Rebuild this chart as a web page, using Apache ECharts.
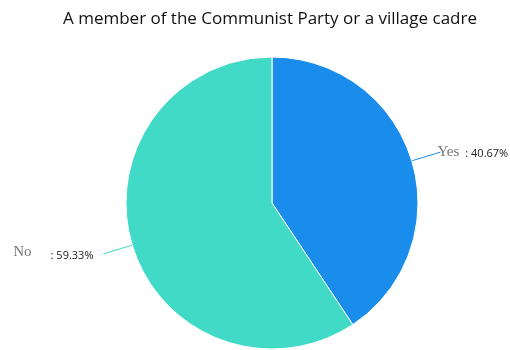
<!DOCTYPE html>
<html>
<head>
<meta charset="utf-8">
<script src="https://cdn.jsdelivr.net/npm/echarts@6/dist/echarts.min.js"></script>
<style>
  html, body { margin: 0; padding: 0; background: #fff; }
  #chart { width: 510px; height: 350px; }
</style>
</head>
<body>
<div id="chart"></div>
<script>
// Share of respondents who are party members or village cadres
const categories = ['Yes', 'No'];
const shares = [40.67, 59.33];
const colors = ['#1a8ceb', '#41dac7'];

// Per-slice label tweaks: gap between name and value, nudge, name lift
const labelGap = [6, 19];
const labelOffset = [[-5, 2], [-8, 2]];
const nameLift = [4, 7];

const chart = echarts.init(document.getElementById('chart'), null, { renderer: 'canvas' });

const sansFont = '"Open Sans", "Noto Sans", sans-serif';
const serifFont = '"Liberation Serif", "DejaVu Serif", serif';

const data = categories.map((name, i) => ({
  name: name,
  value: shares[i],
  itemStyle: { color: colors[i] },
  label: {
    offset: labelOffset[i],
    rich: {
      n: {
        fontFamily: serifFont,
        fontSize: 15,
        color: '#777',
        padding: [0, 0, nameLift[i], 0]
      },
      g: { width: labelGap[i] },
      v: { fontFamily: sansFont, fontSize: 11, color: '#222' }
    }
  }
}));

chart.setOption({
  animation: false,
  title: {
    text: 'A member of the Communist Party or a village cadre',
    left: 58,
    top: 6,
    textStyle: {
      fontFamily: sansFont,
      fontWeight: 'normal',
      fontSize: 17,
      color: '#111'
    }
  },
  series: [{
    type: 'pie',
    center: [272, 203],
    radius: [0, 146],
    startAngle: 90,
    clockwise: true,
    data: data,
    itemStyle: { borderColor: '#fff', borderWidth: 1 },
    label: {
      show: true,
      position: 'outside',
      overflow: 'none',
      distanceToLabelLine: 2,
      formatter: p => '{n|' + p.name + '}{g| }{v|: ' + p.value.toFixed(2) + '%}'
    },
    labelLine: {
      show: true,
      length: 30,
      length2: 0,
      smooth: false,
      lineStyle: { width: 1 }
    }
  }]
});
</script>
</body>
</html>
